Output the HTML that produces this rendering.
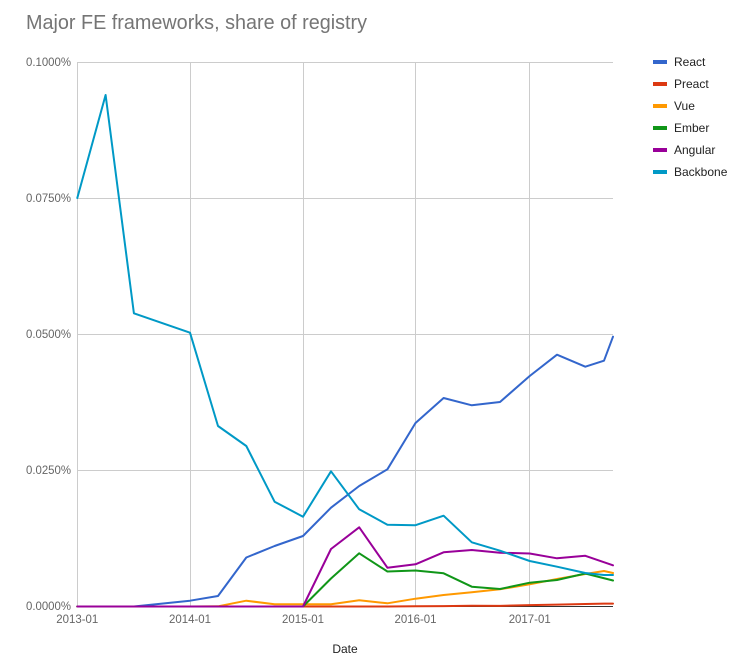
<!DOCTYPE html>
<html><head><meta charset="utf-8"><style>
html,body{margin:0;padding:0;background:#fff;}
svg{display:block;}
text{font-family:"Liberation Sans",Arial,sans-serif;}
</style></head><body>
<svg width="741" height="670" viewBox="0 0 741 670" xmlns="http://www.w3.org/2000/svg">
<rect width="741" height="670" fill="#fff"/>
<text x="26" y="29" font-size="20" fill="#757575" textLength="341" lengthAdjust="spacingAndGlyphs">Major FE frameworks, share of registry</text>
<g stroke="#cccccc" stroke-width="1" fill="none">
<line x1="77" y1="62.5" x2="613" y2="62.5"/>
<line x1="77" y1="198.5" x2="613" y2="198.5"/>
<line x1="77" y1="334.5" x2="613" y2="334.5"/>
<line x1="77" y1="470.5" x2="613" y2="470.5"/>
<line x1="77.5" y1="62" x2="77.5" y2="607"/>
<line x1="190.5" y1="62" x2="190.5" y2="607"/>
<line x1="303.5" y1="62" x2="303.5" y2="607"/>
<line x1="415.5" y1="62" x2="415.5" y2="607"/>
<line x1="529.5" y1="62" x2="529.5" y2="607"/>
</g>
<line x1="77" y1="606.5" x2="613" y2="606.5" stroke="#333" stroke-width="1"/>
<g font-size="12" fill="#666" text-anchor="end">
<text x="71" y="66" textLength="45" lengthAdjust="spacingAndGlyphs">0.1000%</text>
<text x="71" y="202" textLength="45" lengthAdjust="spacingAndGlyphs">0.0750%</text>
<text x="71" y="338" textLength="45" lengthAdjust="spacingAndGlyphs">0.0500%</text>
<text x="71" y="474" textLength="45" lengthAdjust="spacingAndGlyphs">0.0250%</text>
<text x="71" y="610" textLength="45" lengthAdjust="spacingAndGlyphs">0.0000%</text>
</g>
<g font-size="12" fill="#666" text-anchor="middle">
<text x="77.3" y="623" textLength="42" lengthAdjust="spacingAndGlyphs">2013-01</text>
<text x="190" y="623" textLength="42" lengthAdjust="spacingAndGlyphs">2014-01</text>
<text x="303" y="623" textLength="42" lengthAdjust="spacingAndGlyphs">2015-01</text>
<text x="415.5" y="623" textLength="42" lengthAdjust="spacingAndGlyphs">2016-01</text>
<text x="529.7" y="623" textLength="42" lengthAdjust="spacingAndGlyphs">2017-01</text>
</g>
<text x="345" y="653" font-size="12" fill="#222" text-anchor="middle">Date</text>
<g fill="none" stroke-width="2" stroke-linejoin="round" stroke-linecap="round">
<polyline stroke="#3366cc" points="77.3,606.5 105.6,606.5 133.9,606.5 190,600.7 218,596 246.3,557.5 274.6,546 303,536 331,507.7 359.2,486 387.4,469.3 415.5,423 443.6,398 471.8,405.3 500,402 529.7,376 557,354.7 585.3,366.7 604,360.7 613,336.7"/>
<polyline stroke="#dc3912" points="77.3,606.5 387.4,606.5 415.5,606.3 443.6,606.1 471.8,605.7 500,605.9 529.7,605.1 557,604.6 585.3,604 604,603.6 613,603.6"/>
<polyline stroke="#ff9900" points="77.3,606.5 190,606.5 218,606.3 246.3,600.7 274.6,604.3 303,604.3 331,604.3 359.2,600.3 387.4,603.3 415.5,598.7 443.6,595 471.8,592.3 500,589.3 529.7,584.3 557,579 585.3,574 604,571 613,573"/>
<polyline stroke="#109618" points="77.3,606.5 303,606.5 331,578.5 359.2,553.3 387.4,571.5 415.5,570.5 443.6,573.3 471.8,586.7 500,589 529.7,582.7 557,580 585.3,573.5 613,580.5"/>
<polyline stroke="#990099" points="77.3,606.5 303,606.5 331,549 359.2,527.3 387.4,567.7 415.5,564.3 443.6,552.3 471.8,550 500,552.7 529.7,553.5 557,558.3 585.3,555.8 613,565.3"/>
<polyline stroke="#0099c6" points="77.3,198 105.6,95 133.9,313.3 190,332.7 218,426 246.3,446 274.6,501.7 303,516.7 331,471.3 359.2,509.3 387.4,524.7 415.5,525.2 443.6,515.7 471.8,542.3 500,550.7 529.7,561 557,566.7 585.3,573 604,575 613,575"/>
</g>
<g font-size="12" fill="#222">
<rect x="653" y="60" width="14" height="4" fill="#3366cc"/>
<text x="674" y="66">React</text>
<rect x="653" y="82" width="14" height="4" fill="#dc3912"/>
<text x="674" y="88">Preact</text>
<rect x="653" y="104" width="14" height="4" fill="#ff9900"/>
<text x="674" y="110">Vue</text>
<rect x="653" y="126" width="14" height="4" fill="#109618"/>
<text x="674" y="132">Ember</text>
<rect x="653" y="148" width="14" height="4" fill="#990099"/>
<text x="674" y="154">Angular</text>
<rect x="653" y="170" width="14" height="4" fill="#0099c6"/>
<text x="674" y="176">Backbone</text>
</g>
</svg>
</body></html>
